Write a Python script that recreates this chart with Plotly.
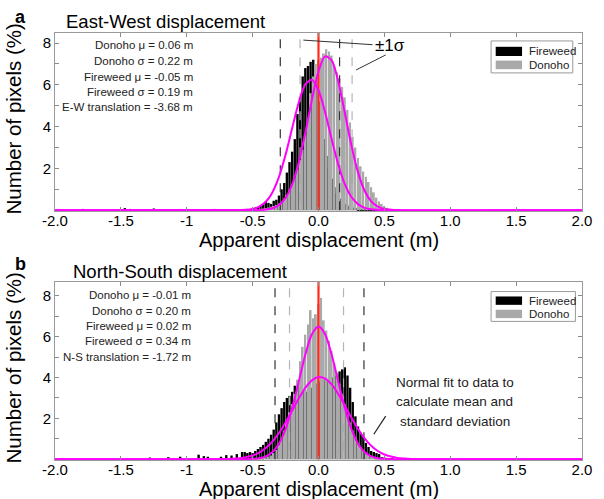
import plotly.graph_objects as go

FONT = "Liberation Sans, Arial, sans-serif"

# ---------------- data ----------------
bin_centers = [round(-0.56 + 0.02 * i, 2) for i in range(57)]

ew_fireweed = [0.04, 0.06, 0.05, 0.10, 0.12, 0.15, 0.20, 0.30, 0.42, 0.35, 0.30, 0.45, 0.50, 0.70,
               1.00, 1.30, 1.80, 2.30, 2.80, 3.40, 4.60, 5.40, 6.40, 6.80, 6.90, 7.10, 7.20, 6.20,
               5.20, 4.20, 3.40, 2.60, 2.00, 1.50, 1.10, 0.80, 0.55, 0.40, 0.30, 0.22, 0.16, 0.12,
               0.10, 0.08, 0.07, 0.06, 0.06, 0.05, 0.05, 0.05, 0.08, 0.08, 0.06, 0.04, 0.03, 0.02, 0.00]
ew_donoho = [0.0, 0.0, 0.02, 0.03, 0.04, 0.05, 0.07, 0.08, 0.10, 0.13, 0.16, 0.20, 0.25, 0.32,
             0.42, 0.55, 0.72, 0.95, 1.20, 1.55, 1.95, 2.40, 2.90, 3.60, 4.40, 5.60, 6.40, 7.00,
             7.20, 7.30, 7.50, 7.70, 7.60, 7.40, 6.90, 6.60, 6.30, 5.90, 5.40, 4.80, 4.20, 3.50,
             3.00, 2.50, 2.10, 1.85, 1.60, 1.35, 1.10, 0.85, 0.60, 0.42, 0.30, 0.20, 0.12, 0.08, 0.05]
ew_tail_x = [-1.79, -1.47, -1.43, -1.25, -1.08, -1.00, -0.92, -0.79, -0.70, -0.64]
ew_tail_y = [0.06, 0.10, 0.06, 0.08, 0.05, 0.06, 0.05, 0.06, 0.05, 0.05]

ns_fireweed = [0.35, 0.30, 0.35, 0.30, 0.40, 0.50, 0.60, 0.70, 0.85, 1.00, 1.20, 1.45, 1.80, 2.20,
               2.50, 2.80, 3.00, 3.10, 3.30, 3.60, 3.70, 3.40, 3.30, 3.30, 3.40, 3.50, 3.60, 3.70,
               3.80, 3.80, 3.90, 3.90, 4.00, 4.00, 4.10, 4.20, 4.30, 4.40, 4.50, 4.10, 3.50, 2.80,
               2.10, 1.60, 1.30, 1.10, 0.80, 0.60, 0.40, 0.35, 0.30, 0.25, 0.10, 0.08, 0.06, 0.05, 0.04]
ns_donoho = [0.0, 0.0, 0.02, 0.03, 0.04, 0.05, 0.06, 0.08, 0.10, 0.13, 0.18, 0.30, 0.45, 0.70,
             1.00, 1.40, 1.90, 2.30, 2.70, 3.20, 3.90, 4.80, 5.50, 6.10, 6.60, 7.30, 6.90, 7.10,
             7.60, 7.90, 6.80, 6.30, 5.80, 5.30, 4.70, 4.20, 3.70, 3.20, 2.70, 2.20, 1.80, 1.40,
             1.10, 0.80, 0.60, 0.42, 0.30, 0.20, 0.14, 0.10, 0.07, 0.05, 0.03, 0.02, 0.0, 0.0, 0.0]
ns_tail_x = [-1.28, -1.14, -1.05, -0.91, -0.87, -0.84, -0.74, -0.70, -0.66, -0.62, -0.58]
ns_tail_y = [0.08, 0.10, 0.12, 0.22, 0.15, 0.12, 0.12, 0.20, 0.18, 0.25, 0.35]

# normal-fit curves
ew_curve_x = [-2.0, -0.6, -0.55, -0.5, -0.45, -0.4, -0.35, -0.3, -0.25, -0.2, -0.15, -0.1, -0.05,
              0.0, 0.05, 0.1, 0.15, 0.2, 0.25, 0.3, 0.35, 0.4, 0.45, 0.5, 0.55, 0.6, 2.0]
ew_fireweed_fit = [0, 0.01, 0.02, 0.06, 0.17, 0.40, 0.85, 1.59, 2.65, 3.92, 5.15, 6.02, 6.24,
                   5.74, 4.69, 3.40, 2.19, 1.25, 0.63, 0.29, 0.11, 0.04, 0.01, 0, 0, 0, 0]
ew_donoho_fit = [0, 0, 0, 0, 0.01, 0.03, 0.09, 0.25, 0.59, 1.24, 2.27, 3.70, 5.28,
                 6.65, 7.36, 7.17, 6.16, 4.65, 3.09, 1.81, 0.93, 0.42, 0.17, 0.06, 0.02, 0, 0]

ns_curve_x = [-2.0, -0.8, -0.75, -0.7, -0.65, -0.6, -0.55, -0.5, -0.45, -0.4, -0.35, -0.3, -0.25,
              -0.2, -0.15, -0.1, -0.05, 0.0, 0.05, 0.1, 0.15, 0.2, 0.25, 0.3, 0.35, 0.4, 0.45,
              0.5, 0.55, 0.6, 0.65, 0.7, 0.75, 0.8, 2.0]
ns_fireweed_fit = [0, 0, 0, 0.01, 0.02, 0.05, 0.10, 0.18, 0.32, 0.55, 0.86, 1.28, 1.80,
                   2.38, 2.97, 3.49, 3.86, 4.02, 3.95, 3.66, 3.19, 2.62, 2.03, 1.48, 1.02, 0.66, 0.40,
                   0.23, 0.13, 0.06, 0.03, 0.01, 0, 0, 0]
ns_donoho_fit = [0, 0, 0, 0, 0, 0, 0, 0.02, 0.05, 0.14, 0.35, 0.76, 1.47,
                 2.51, 3.80, 5.12, 6.12, 6.50, 6.12, 5.12, 3.80, 2.51, 1.47, 0.76, 0.35, 0.14, 0.05,
                 0.02, 0, 0, 0, 0, 0, 0, 0]

# +/- 1 sigma dashed-line positions
ew_fireweed_sigma = [-0.29, 0.16]
ew_donoho_sigma = [-0.14, 0.255]
ns_fireweed_sigma = [-0.33, 0.345]
ns_donoho_sigma = [-0.22, 0.19]

ew_stats = ["Donoho μ = 0.06 m", "Donoho σ = 0.22 m", "Fireweed μ = -0.05 m",
            "Fireweed σ = 0.19 m", "E-W translation = -3.68 m"]
ns_stats = ["Donoho μ = -0.01 m", "Donoho σ = 0.20 m", "Fireweed μ = 0.02 m",
            "Fireweed σ = 0.34 m", "N-S translation = -1.72 m"]

x_tickvals = [-2, -1.5, -1, -0.5, 0, 0.5, 1, 1.5, 2]
x_ticktext = ["-2.0", "-1.5", "-1", "-0.5", "0.0", "0.5", "1.0", "1.5", "2.0"]
y_tickvals = [1, 2, 3, 4, 5, 6, 7, 8]
y_ticktext = ["", "2", "", "4", "", "6", "", "8"]

EW_YMAX = 8.48
NS_YMAX = 8.68

MAGENTA = "#ff00ff"
GRAY = "#a9a9a9"

fig = go.Figure()


def add_panel(xa, ya, fw, dn, tx, ty, cx, fw_fit, dn_fit, cxn, fw_sig, dn_sig, ymax):
    fig.add_trace(go.Bar(x=bin_centers + tx, y=fw + ty, width=0.018, marker_color="black",
                         marker_line_width=0, xaxis=xa, yaxis=ya, name="Fireweed"))
    fig.add_trace(go.Bar(x=bin_centers, y=dn, width=0.014, marker_color=GRAY,
                         marker_line_width=0, xaxis=xa, yaxis=ya, name="Donoho"))
    for v in fw_sig:
        fig.add_trace(go.Scatter(x=[v, v], y=[0, ymax], mode="lines", xaxis=xa, yaxis=ya,
                                 line=dict(color="#333333", width=1.2, dash="dash")))
    for v in dn_sig:
        fig.add_trace(go.Scatter(x=[v, v], y=[0, ymax], mode="lines", xaxis=xa, yaxis=ya,
                                 line=dict(color="#b5b5b5", width=1.2, dash="dash")))
    fig.add_trace(go.Scatter(x=[0, 0], y=[0, ymax], mode="lines", xaxis=xa, yaxis=ya,
                             line=dict(color="#ff2a1a", width=2.2)))
    fig.add_trace(go.Scatter(x=cx, y=fw_fit, mode="lines", xaxis=xa, yaxis=ya,
                             line=dict(color=MAGENTA, width=2, shape="spline", smoothing=0.8)))
    fig.add_trace(go.Scatter(x=cxn, y=dn_fit, mode="lines", xaxis=xa, yaxis=ya,
                             line=dict(color=MAGENTA, width=2, shape="spline", smoothing=0.8)))


add_panel("x", "y", ew_fireweed, ew_donoho, ew_tail_x, ew_tail_y, ew_curve_x,
          ew_fireweed_fit, ew_donoho_fit, ew_curve_x, ew_fireweed_sigma, ew_donoho_sigma, EW_YMAX)
add_panel("x2", "y2", ns_fireweed, ns_donoho, ns_tail_x, ns_tail_y, ns_curve_x,
          ns_fireweed_fit, ns_donoho_fit, ns_curve_x, ns_fireweed_sigma, ns_donoho_sigma, NS_YMAX)

axis_common = dict(ticks="inside", ticklen=4, tickcolor="#8a8a8a", showline=True,
                   linecolor="#9a9a9a", linewidth=1, mirror="ticks", showgrid=False,
                   zeroline=False, tickfont=dict(family=FONT, size=15, color="black"))

fig.update_layout(
    width=604, height=499,
    margin=dict(l=55, r=15, t=33, b=39),
    paper_bgcolor="white", plot_bgcolor="white",
    barmode="overlay", showlegend=False,
    font=dict(family=FONT, color="black"),
    xaxis=dict(domain=[0, 1], anchor="y", range=[-2, 2], tickvals=x_tickvals,
               ticktext=x_ticktext, ticklabelstandoff=-4, **axis_common),
    yaxis=dict(domain=[0.5831, 1], anchor="x", range=[-0.04, EW_YMAX], tickvals=y_tickvals,
               ticktext=y_ticktext, **axis_common),
    xaxis2=dict(domain=[0, 1], anchor="y2", range=[-2, 2], tickvals=x_tickvals,
                ticktext=x_ticktext, ticklabelstandoff=-4, **axis_common),
    yaxis2=dict(domain=[0, 0.4169], anchor="x2", range=[-0.04, NS_YMAX], tickvals=y_tickvals,
                ticktext=y_ticktext, **axis_common),
)

ann = []
shapes = []


def txt(text, x, y, xref="paper", yref="paper", size=17, xanchor="center", angle=0, color="black"):
    return dict(text=text, x=x, y=y, xref=xref, yref=yref, xanchor=xanchor, yanchor="middle",
                textangle=angle, showarrow=False, font=dict(size=size, family=FONT, color=color))


# panel titles and letters
ann += [
    txt("<b>a</b>", -0.0655, 1.038, size=18),
    txt("East-West displacement", 0.2097, 1.028, size=18.5),
    txt("<b>b</b>", -0.0655, 0.459, size=18),
    txt("North-South displacement", 0.2378, 0.4426, size=18.5),
    txt("Apparent displacement (m)", 0.5, 0.5152, size=20),
    txt("Apparent displacement (m)", 0.5, -0.0679, size=20),
    txt("Number of pixels (%)", -0.0787, 0.7986, size=20.5, angle=-90),
    txt("Number of pixels (%)", -0.0787, 0.2155, size=20.5, angle=-90),
]

# stats text
for t, yv in zip(ew_stats, [7.9, 7.14, 6.38, 5.67, 4.95]):
    ann.append(txt(t, -0.94, yv, "x", "y", size=11.5, xanchor="right", color="#222"))
for t, yv in zip(ns_stats, [8.05, 7.27, 6.54, 5.80, 5.02]):
    ann.append(txt(t, -0.95, yv, "x2", "y2", size=11.5, xanchor="right", color="#222"))

# +-1 sigma label
ann.append(txt("±1σ", 0.41, 7.86, "x", "y", size=17, xanchor="left"))
shapes.append(dict(type="line", xref="x", yref="y", x0=-0.115, y0=8.14, x1=0.41, y1=7.92,
                   line=dict(color="#333", width=1)))
shapes.append(dict(type="line", xref="x", yref="y", x0=0.285, y0=6.71, x1=0.51, y1=7.43,
                   line=dict(color="#333", width=1)))

# normal fit note
for t, yv in zip(["Normal fit to data to", "calculate mean and", "standard deviation"],
                 [3.74, 2.84, 1.87]):
    ann.append(txt(t, 1.034, yv, "x2", "y2", size=13.5, color="#222"))
shapes.append(dict(type="line", xref="x2", yref="y2", x0=0.42, y0=1.22, x1=0.51, y1=2.11,
                   line=dict(color="#222", width=1.2)))

# manual legends
for xr, yr, box, sw1, sw2 in [
    ("x", "y", (1.31, 1.93, 6.57, 8.10), (7.38, 7.82), (6.75, 7.16)),
    ("x2", "y2", (1.31, 1.95, 6.75, 8.21), (7.56, 7.97), (6.91, 7.32)),
]:
    shapes.append(dict(type="rect", xref=xr, yref=yr, x0=box[0], x1=box[1], y0=box[2], y1=box[3],
                       line=dict(color="#999", width=1), fillcolor="white"))
    shapes.append(dict(type="rect", xref=xr, yref=yr, x0=box[0] + 0.035, x1=box[0] + 0.235,
                       y0=sw1[0], y1=sw1[1], line=dict(width=0), fillcolor="black"))
    shapes.append(dict(type="rect", xref=xr, yref=yr, x0=box[0] + 0.035, x1=box[0] + 0.235,
                       y0=sw2[0], y1=sw2[1], line=dict(width=0), fillcolor=GRAY))
    ann.append(txt("Fireweed", box[0] + 0.27, (sw1[0] + sw1[1]) / 2, xr, yr, size=11.5,
                   xanchor="left", color="#222"))
    ann.append(txt("Donoho", box[0] + 0.27, (sw2[0] + sw2[1]) / 2, xr, yr, size=11.5,
                   xanchor="left", color="#222"))

fig.update_layout(annotations=ann, shapes=shapes)
fig.write_html("out.html")
